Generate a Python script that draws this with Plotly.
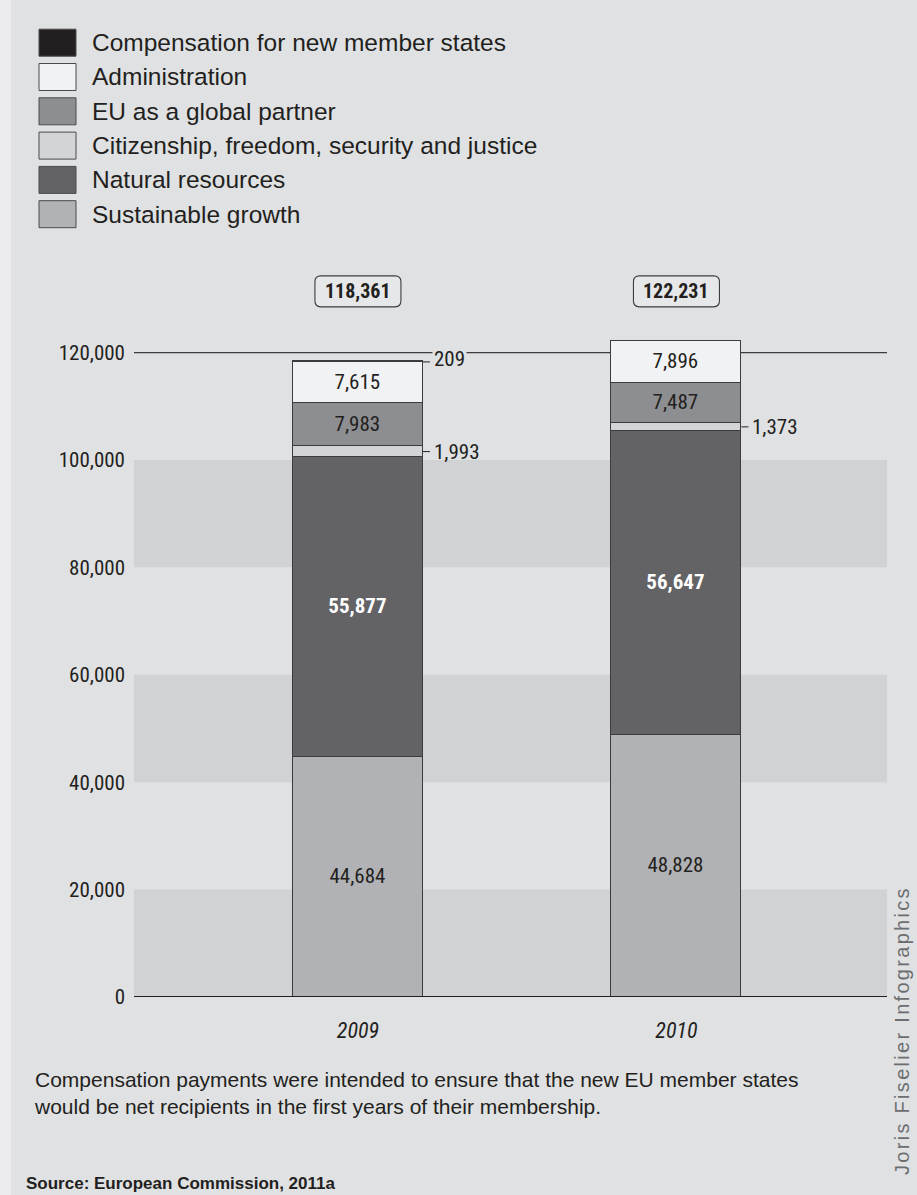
import plotly.graph_objects as go

# ---------------- data ----------------
years = ["2009", "2010"]
series_names = [
    "Sustainable growth",
    "Natural resources",
    "Citizenship, freedom, security and justice",
    "EU as a global partner",
    "Administration",
    "Compensation for new member states",
]
sustainable_growth = [44684, 48828]
natural_resources = [55877, 56647]
citizenship = [1993, 1373]
global_partner = [7983, 7487]
administration = [7615, 7896]
compensation = [209, None]
totals = [118361, 122231]
y_ticks = [0, 20000, 40000, 60000, 80000, 100000, 120000]

series_values = [sustainable_growth, natural_resources, citizenship,
                 global_partner, administration, compensation]
series_colors = ["#b1b2b5", "#636366", "#d3d4d6", "#8d8e91", "#f1f2f4", "#231f20"]
inside_label = [True, True, False, True, True, False]

# ---------------- style / geometry ----------------
W, H = 917, 1195
L, R, T, B = 134, 887, 272, 997
BG = "#e0e1e3"
BAND = "#d1d2d4"
INK = "#231f20"
EDGE = "#3c3c3e"
NARROW = "Liberation Sans Narrow, Arial Narrow, Roboto Condensed, DejaVu Sans Condensed, sans-serif"
SANS = "Liberation Sans, Arial, Helvetica, sans-serif"
X_RANGE = [-0.703, 1.661]
Y_RANGE = [0, 135000]
BAR_W = 0.408
UNIT_PER_PX = (X_RANGE[1] - X_RANGE[0]) / (R - L)
BOX_Y = 131400


def px_x(px):
    return (px - L) / (R - L)


def px_y(py):
    return (B - py) / (B - T)


fig = go.Figure()

for name, vals, col, lab in zip(series_names, series_values, series_colors, inside_label):
    is_dark = col == "#636366"
    fig.add_trace(go.Bar(
        x=years, y=vals, name=name, width=BAR_W,
        marker=dict(color=col, line=dict(color=EDGE, width=1.2)),
        texttemplate="%{y:,}" if lab else "",
        textposition="inside" if lab else "none",
        insidetextanchor="middle",
        textangle=0,
        textfont=dict(family=NARROW, size=21,
                      color="white" if is_dark else INK,
                      weight="bold" if is_dark else "normal"),
        showlegend=False,
        hoverinfo="skip",
    ))

shapes = []
annotations = []

# left light strip
shapes.append(dict(type="rect", xref="paper", yref="paper",
                   x0=px_x(0), x1=px_x(11), y0=px_y(H), y1=px_y(0),
                   fillcolor="#ebebed", line=dict(width=0), layer="below"))

# alternating bands
for y0 in (0, 40000, 80000):
    shapes.append(dict(type="rect", xref="x domain", yref="y", x0=0, x1=1,
                       y0=y0, y1=y0 + 20000, fillcolor=BAND,
                       line=dict(width=0), layer="below"))

# 120,000 reference line
shapes.append(dict(type="line", xref="x domain", yref="y", x0=0, x1=1,
                   y0=120000, y1=120000, line=dict(color=EDGE, width=1.3),
                   layer="below"))
# baseline
shapes.append(dict(type="line", xref="x domain", yref="y", x0=0, x1=1,
                   y0=0, y1=0, line=dict(color=INK, width=2.2), layer="above"))

# outside labels for the thin segments
for i, yr in enumerate(years):
    base = 0
    for vals, lab in zip(series_values, inside_label):
        v = vals[i]
        if v is None:
            continue
        if not lab:
            mid = base + v / 2
            x_edge = i + BAR_W / 2
            near_line = abs(mid - 120000) < 3000
            shapes.append(dict(type="line", xref="x", yref="y",
                               x0=x_edge, x1=x_edge + 7 * UNIT_PER_PX,
                               y0=mid, y1=mid, line=dict(color=INK, width=1)))
            annotations.append(dict(
                x=x_edge + 9 * UNIT_PER_PX, y=mid, xref="x", yref="y",
                text=f"{v:,}", showarrow=False, xanchor="left", yanchor="middle",
                yshift=3 if near_line else 0,
                font=dict(family=NARROW, size=21, color=INK),
                bgcolor=BG if near_line else "rgba(0,0,0,0)", borderpad=1))
        base += v

# total boxes
box_path = ("M -37,-15.5 L 37,-15.5 Q 43,-15.5 43,-9.5 L 43,9.5 Q 43,15.5 37,15.5 "
            "L -37,15.5 Q -43,15.5 -43,9.5 L -43,-9.5 Q -43,-15.5 -37,-15.5 Z")
for i, tot in enumerate(totals):
    shapes.append(dict(type="path", xref="x", yref="y", xsizemode="pixel",
                       ysizemode="pixel", xanchor=i, yanchor=BOX_Y,
                       path=box_path, fillcolor="#e6e7e9",
                       line=dict(color=EDGE, width=1.1)))
    annotations.append(dict(x=i, y=BOX_Y, xref="x", yref="y", text=f"<b>{tot:,}</b>",
                            showarrow=False, font=dict(family=NARROW, size=20, color=INK)))

# manual legend (top to bottom = reverse of stack)
for k, (name, col) in enumerate(zip(series_names[::-1], series_colors[::-1])):
    cy = 42.7 + 34.3 * k
    shapes.append(dict(type="rect", xref="paper", yref="paper",
                       x0=px_x(39), x1=px_x(76), y0=px_y(cy + 13.5), y1=px_y(cy - 13.5),
                       fillcolor=col, line=dict(color="#4a4a4c", width=1)))
    annotations.append(dict(x=px_x(90), y=px_y(cy), xref="paper", yref="paper",
                            text=name, showarrow=False, xanchor="left", yanchor="middle",
                            font=dict(family=SANS, size=24.5, color=INK)))

# footnote
annotations.append(dict(
    x=px_x(32), y=px_y(1066), xref="paper", yref="paper",
    text="Compensation payments were intended to ensure that the new EU member states"
         "<br>would be net recipients in the first years of their membership.",
    showarrow=False, xanchor="left", yanchor="top", align="left",
    font=dict(family=SANS, size=21, color=INK)))

# source
annotations.append(dict(
    x=px_x(24), y=px_y(1183), xref="paper", yref="paper",
    text="Source: European Commission, 2011a", showarrow=False,
    xanchor="left", yanchor="middle",
    font=dict(family=SANS, size=17, color=INK, weight="bold")))

# credit (letter-spaced, rotated)
annotations.append(dict(
    x=px_x(902), y=px_y(1031), xref="paper", yref="paper",
    text="<span style='letter-spacing:2.3px'>Joris Fiselier Infographics</span>",
    showarrow=False, textangle=-90,
    xanchor="center", yanchor="middle",
    font=dict(family=SANS, size=20, color="#6d6e70")))

fig.update_layout(
    width=W, height=H,
    margin=dict(l=L, r=W - R, t=T, b=H - B, pad=0),
    paper_bgcolor=BG, plot_bgcolor=BG,
    barmode="stack", bargap=0,
    showlegend=False,
    shapes=shapes, annotations=annotations,
    xaxis=dict(type="category", categoryorder="array", categoryarray=years,
               range=X_RANGE, showgrid=False, zeroline=False, showline=False,
               ticks="", ticklabelstandoff=18,
               tickfont=dict(family=NARROW, size=22, color=INK, style="italic")),
    yaxis=dict(range=Y_RANGE, tickvals=y_ticks, tickformat=",",
               showgrid=False, zeroline=False, showline=False, ticks="",
               ticklabelstandoff=8,
               tickfont=dict(family=NARROW, size=21, color=INK)),
)

fig.write_html("out.html", config={"displayModeBar": False},
               post_script="document.body.style.margin='0';document.body.style.overflow='hidden';")
